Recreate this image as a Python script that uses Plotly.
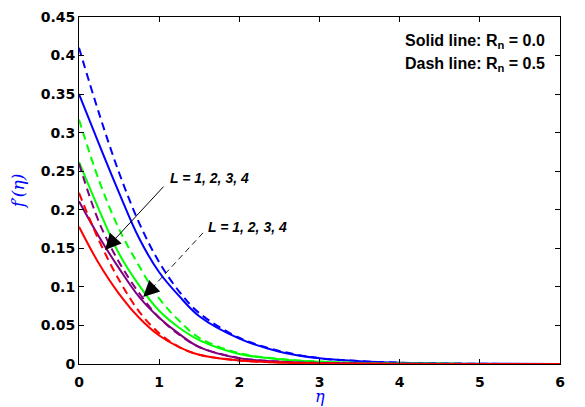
import plotly.graph_objects as go

eta = [0, 0.25, 0.5, 0.75, 1.0, 1.25, 1.5, 2.0, 2.5, 3.0, 3.5, 4.0, 5.0, 6.0]

# Solid lines: R_n = 0.0
blue_solid   = [0.350, 0.285, 0.222, 0.163, 0.119, 0.088, 0.062, 0.033, 0.016, 0.0074, 0.0037, 0.0017, 0.0003, 0.0]
green_solid  = [0.262, 0.200, 0.143, 0.102, 0.069, 0.047, 0.031, 0.013, 0.0063, 0.0030, 0.0013, 0.0005, 0.0001, 0.0]
purple_solid = [0.211, 0.165, 0.124, 0.087, 0.060, 0.039, 0.022, 0.0075, 0.0030, 0.0013, 0.0005, 0.0002, 0.0, 0.0]
red_solid    = [0.178, 0.130, 0.091, 0.060, 0.037, 0.022, 0.012, 0.0045, 0.0020, 0.0008, 0.0003, 0.0001, 0.0, 0.0]

# Dashed lines: R_n = 0.5
blue_dash    = [0.410, 0.325, 0.248, 0.183, 0.132, 0.094, 0.066, 0.034, 0.017, 0.0076, 0.0038, 0.0017, 0.0003, 0.0]
green_dash   = [0.317, 0.238, 0.175, 0.127, 0.085, 0.056, 0.034, 0.014, 0.0065, 0.0031, 0.0013, 0.0005, 0.0001, 0.0]
purple_dash  = [0.260, 0.184, 0.132, 0.092, 0.060, 0.038, 0.022, 0.0078, 0.0031, 0.0013, 0.0005, 0.0002, 0.0, 0.0]
red_dash     = [0.222, 0.160, 0.109, 0.068, 0.040, 0.022, 0.012, 0.0046, 0.0020, 0.0008, 0.0003, 0.0001, 0.0, 0.0]

x_ticks = [0, 1, 2, 3, 4, 5, 6]
y_ticks = [0, 0.05, 0.1, 0.15, 0.2, 0.25, 0.3, 0.35, 0.4, 0.45]
y_tick_labels = ["0", "0.05", "0.1", "0.15", "0.2", "0.25", "0.3", "0.35", "0.4", "0.45"]

colors = {"blue": "#0000FF", "green": "#00FF00", "purple": "#800080", "red": "#FF0000"}

fig = go.Figure()
series = [
    (blue_solid, "blue", "solid"), (blue_dash, "blue", "8px,5px"),
    (green_solid, "green", "solid"), (green_dash, "green", "8px,5px"),
    (purple_solid, "purple", "solid"), (purple_dash, "purple", "8px,5px"),
    (red_solid, "red", "solid"), (red_dash, "red", "8px,5px"),
]
for vals, c, d in series:
    fig.add_trace(go.Scatter(x=eta, y=vals, mode="lines",
                             line=dict(color=colors[c], width=2, dash=d, shape="spline", smoothing=1.0),
                             showlegend=False, hoverinfo="skip"))

ann_font = dict(family="Liberation Sans, Arial", size=14, color="black")

# Solid arrow
fig.add_annotation(x=0.324, y=0.148, ax=1.072, ay=0.232, axref="x", ayref="y",
                   xref="x", yref="y", text="", showarrow=True,
                   arrowhead=2, arrowsize=3.2, arrowwidth=1, arrowcolor="black")
fig.add_annotation(x=1.633, y=0.241, xref="x", yref="y", showarrow=False,
                   text="<b><i>L = 1, 2, 3, 4</i></b>", font=ann_font)

# Dashed arrow: dashed shaft as shape + arrow head
fig.add_shape(type="line", x0=1.546, y0=0.170, x1=0.88, y1=0.095, xref="x", yref="y",
              line=dict(color="black", width=0.9, dash="6px,4px"))
fig.add_annotation(x=0.80, y=0.087, ax=0.92, ay=0.099, axref="x", ayref="y",
                   xref="x", yref="y", text="", showarrow=True,
                   arrowhead=2, arrowsize=3.2, arrowwidth=1, arrowcolor="black")
fig.add_annotation(x=2.107, y=0.178, xref="x", yref="y", showarrow=False,
                   text="<b><i>L = 1, 2, 3, 4</i></b>", font=ann_font)

leg_font = dict(family="Liberation Sans, Arial", size=16, color="black")
fig.add_annotation(x=0.973, y=0.928, xref="paper", yref="paper", xanchor="right", yanchor="middle",
                   showarrow=False, text="<b>Solid line: R<sub>n</sub> = 0.0</b>", font=leg_font)
fig.add_annotation(x=0.973, y=0.862, xref="paper", yref="paper", xanchor="right", yanchor="middle",
                   showarrow=False, text="<b>Dash line: R<sub>n</sub> = 0.5</b>", font=leg_font)

# x-axis title placed as text below the tick labels
fig.add_annotation(x=0.5, y=-0.095, xref="paper", yref="paper", xanchor="center", yanchor="middle",
                   showarrow=False, text="<i>η</i>",
                   font=dict(family="DejaVu Serif", size=16, color="#0000FF"))

tick_font = dict(family="DejaVu Sans", size=14, color="black", weight="bold")
fig.update_xaxes(range=[0, 6], tickvals=x_ticks, ticks="inside", ticklen=5, tickcolor="black",
                 showline=True, linecolor="black", linewidth=1, mirror="ticks",
                 showgrid=False, zeroline=False, tickfont=tick_font, automargin=False,
                 ticklabelstandoff=5)
fig.update_yaxes(range=[0, 0.45], tickvals=y_ticks, ticktext=y_tick_labels, ticks="inside", ticklen=5,
                 tickcolor="black", showline=True, linecolor="black", linewidth=1, mirror="ticks",
                 showgrid=False, zeroline=False, tickfont=tick_font, automargin=False,
                 title=dict(text="<i>f′(η)</i>", font=dict(family="DejaVu Serif", size=17, color="#0000FF"), standoff=12))

fig.update_layout(width=577, height=399, margin=dict(l=71, r=25, t=9, b=43),
                  plot_bgcolor="white", paper_bgcolor="white")

fig.write_html("out.html")
